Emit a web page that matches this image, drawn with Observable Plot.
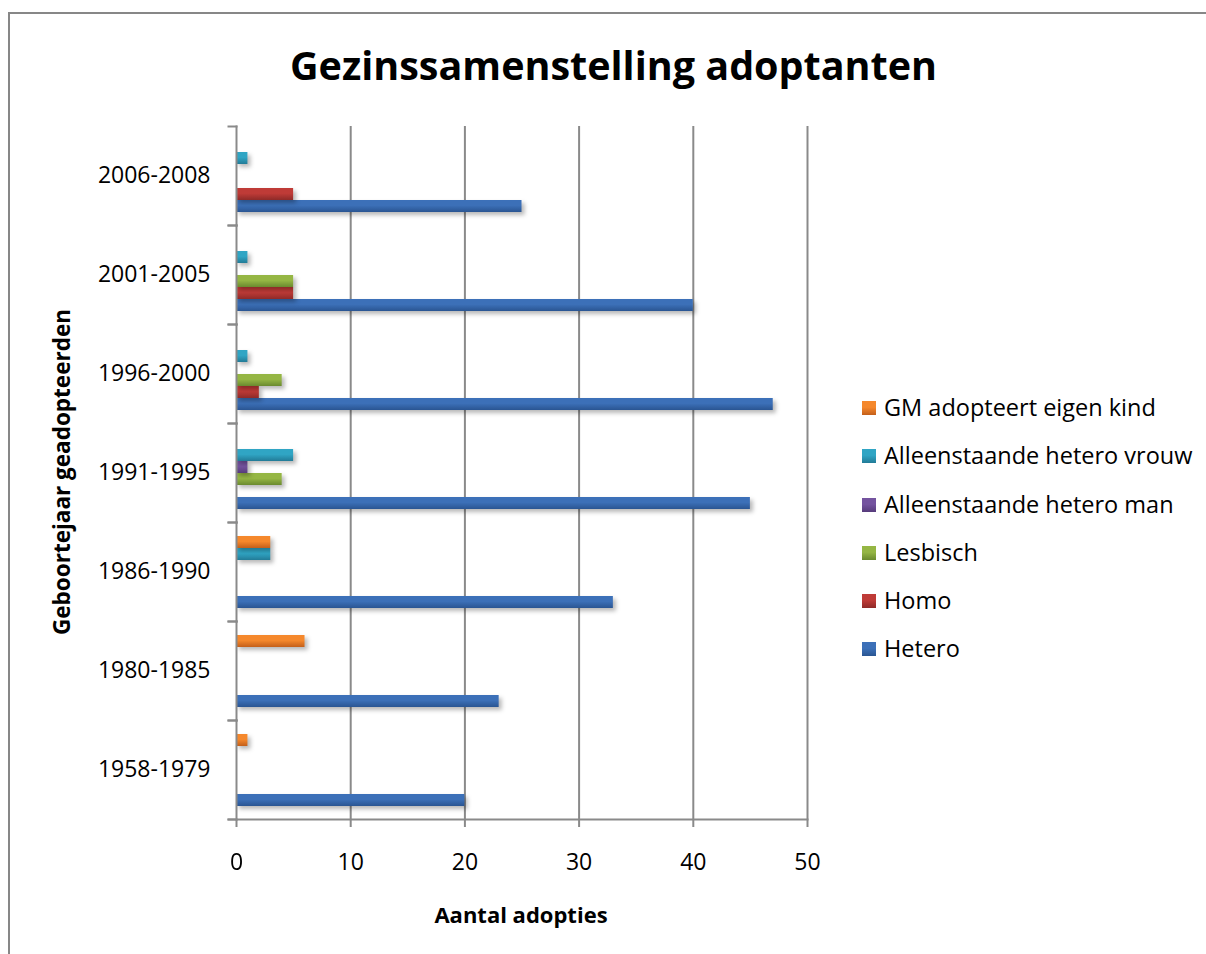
<!DOCTYPE html>
<html>
<head>
<meta charset="utf-8">
<script src="https://cdn.jsdelivr.net/npm/d3@7"></script>
<script src="https://cdn.jsdelivr.net/npm/@observablehq/plot@0.6"></script>
<style>
  html, body { margin: 0; padding: 0; background: #fff; overflow: hidden; }
  body { width: 1206px; height: 954px; position: relative; font-family: "Open Sans", sans-serif; color: #000; }
  #border { position: absolute; left: 8px; top: 12px; width: 1400px; height: 1200px; border-left: 2px solid #878787; border-top: 2px solid #878787; }
  #chart { position: absolute; left: 0; top: 0; }
  .title { position: absolute; left: 0; width: 1227px; text-align: center; top: 45px; font-size: 39.5px; line-height: 40px; font-weight: 700; }
  .xtitle { position: absolute; left: 321px; width: 400px; text-align: center; top: 903px; font-size: 22px; line-height: 22px; font-weight: 700; }
  .ytitle { position: absolute; left: 62px; top: 472px; transform: translate(-50%, -50%) rotate(-90deg); white-space: nowrap; font-size: 22.5px; line-height: 22px; font-weight: 700; }
  .legend { position: absolute; left: 862px; top: 392px; }
  .legend .item { height: 48.3px; display: flex; align-items: flex-start; }
  .legend .sw { width: 14px; height: 14px; margin-top: 9px; margin-right: 8px; }
  .legend .lab { font-size: 23.5px; line-height: 30px; white-space: nowrap; }
  g[aria-label="bar"] { filter: drop-shadow(3px 3px 2px rgba(0,0,0,0.28)); }
</style>
</head>
<body>
<div id="border"></div>
<div id="chart"></div>
<div class="title">Gezinssamenstelling adoptanten</div>
<div class="ytitle">Geboortejaar geadopteerden</div>
<div class="xtitle">Aantal adopties</div>
<div class="legend" id="legend"></div>
<script>
// ---- data ----
const groups = ["1958-1979", "1980-1985", "1986-1990", "1991-1995", "1996-2000", "2001-2005", "2006-2008"];
const seriesNames = ["Hetero", "Homo", "Lesbisch", "Alleenstaande hetero man", "Alleenstaande hetero vrouw", "GM adopteert eigen kind"];
const hetero = [20, 23, 33, 45, 47, 40, 25];
const homo = [0, 0, 0, 0, 2, 5, 5];
const lesbisch = [0, 0, 0, 4, 4, 5, 0];
const heteroMan = [0, 0, 0, 1, 0, 0, 0];
const heteroVrouw = [0, 0, 3, 5, 1, 1, 1];
const gmEigenKind = [1, 6, 3, 0, 0, 0, 0];
const xTicks = [0, 10, 20, 30, 40, 50];

// ---- styles ----
const gradStops = [
  ["#3c70b8", "#2a5592"],
  ["#bf3b37", "#8e2a28"],
  ["#95b644", "#6a8a2f"],
  ["#74539f", "#563b7b"],
  ["#30a5c4", "#227b97"],
  ["#f5882c", "#c35f1a"]
];

const seriesValues = [hetero, homo, lesbisch, heteroMan, heteroVrouw, gmEigenKind];
const table = [];
seriesNames.forEach((s, si) => groups.forEach((g, gi) => table.push({group: g, series: s, value: seriesValues[si][gi]})));

const grid = "#8a8a8a";
const marks = [
  Plot.gridX({ticks: xTicks.filter(t => t > 0), stroke: grid, strokeOpacity: 1, strokeWidth: 2}),
  ...seriesNames.map((s, si) => Plot.barX(table, {
    filter: d => d.series === s && d.value > 0,
    x: "value", y: "series", fy: "group",
    fill: `url(#grad${si})`
  })),
  Plot.frame({anchor: "left", stroke: grid, strokeWidth: 2}),
  Plot.frame({anchor: "top", insetLeft: -8, insetRight: 571, stroke: grid, strokeWidth: 2}),
  Plot.frame({anchor: "bottom", insetLeft: -8, insetRight: 571, stroke: grid, strokeWidth: 2}),
  Plot.frame({anchor: "bottom", facet: "super", insetLeft: -8, stroke: grid, strokeWidth: 2}),
  Plot.axisX({ticks: xTicks, tickSize: 8, tickPadding: 26, fontSize: 23, stroke: grid, strokeWidth: 2, label: null, fill: "#000"}),
  Plot.axisFy({anchor: "left", tickSize: 0, tickPadding: 26, fontSize: 23, label: null, fill: "#000"})
];

const chart = Plot.plot({
  width: 1206, height: 954,
  marginLeft: 236, marginRight: 399, marginTop: 125, marginBottom: 134,
  style: {fontFamily: "Open Sans", background: "transparent", overflow: "visible"},
  x: {domain: [0, 50], axis: null},
  y: {domain: seriesNames.slice().reverse(), paddingInner: 0, paddingOuter: 0.8077, axis: null},
  fy: {domain: groups.slice().reverse(), padding: 0, axis: null},
  marks
});

const ns = "http://www.w3.org/2000/svg";
const defs = document.createElementNS(ns, "defs");
gradStops.forEach((c, i) => {
  const lg = document.createElementNS(ns, "linearGradient");
  lg.setAttribute("id", "grad" + i);
  lg.setAttribute("x1", "0"); lg.setAttribute("y1", "0"); lg.setAttribute("x2", "0"); lg.setAttribute("y2", "1");
  [[0, c[0]], [0.45, c[0]], [1, c[1]]].forEach(([o, col]) => {
    const st = document.createElementNS(ns, "stop");
    st.setAttribute("offset", o); st.setAttribute("stop-color", col);
    lg.appendChild(st);
  });
  defs.appendChild(lg);
});
chart.insertBefore(defs, chart.firstChild);
document.getElementById("chart").appendChild(chart);

// legend (top to bottom: reverse series order)
const legend = document.getElementById("legend");
seriesNames.map((s, i) => ({s, i})).reverse().forEach(({s, i}) => {
  const item = document.createElement("div"); item.className = "item";
  const sw = document.createElement("div"); sw.className = "sw";
  sw.style.background = `linear-gradient(to bottom, ${gradStops[i][0]} 0%, ${gradStops[i][0]} 45%, ${gradStops[i][1]} 100%)`;
  const lab = document.createElement("div"); lab.className = "lab"; lab.textContent = s;
  item.appendChild(sw); item.appendChild(lab);
  legend.appendChild(item);
});
</script>
</body>
</html>
